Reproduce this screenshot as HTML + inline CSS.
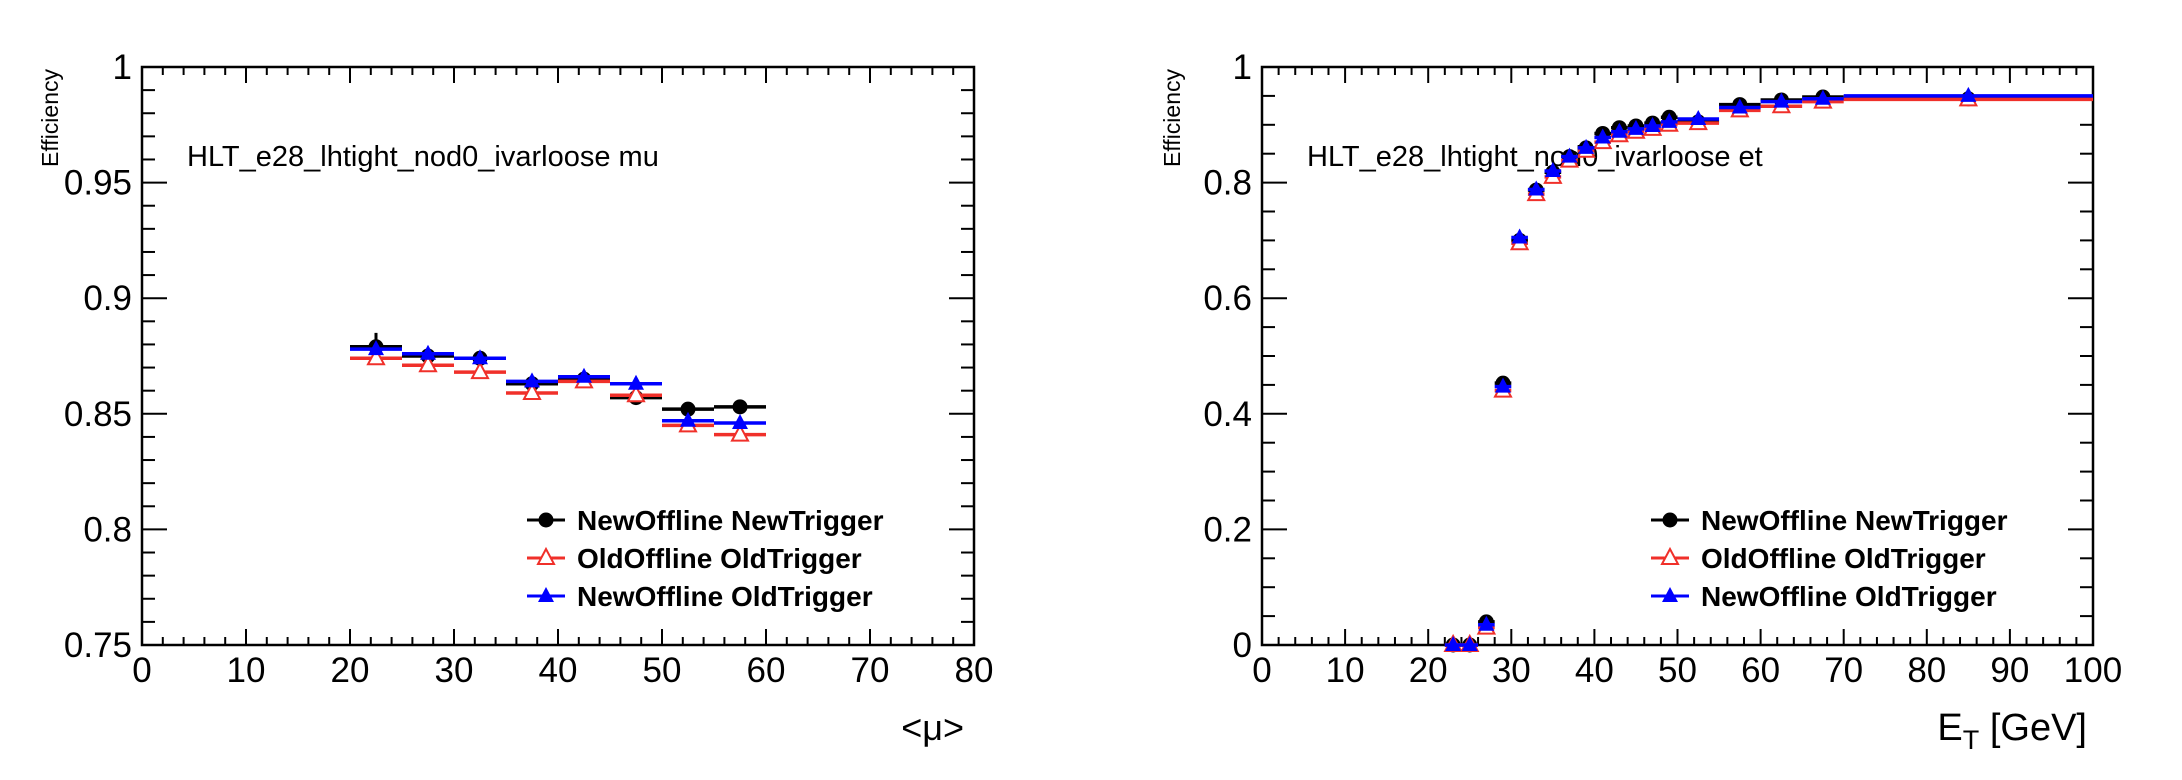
<!DOCTYPE html>
<html><head><meta charset="utf-8">
<style>
html,body{margin:0;padding:0;background:#fff;}
svg{display:block;}
text{font-family:"Liberation Sans",Arial,sans-serif;}
</style></head>
<body>
<svg id="chart" width="2182" height="780" viewBox="0 0 2182 780" xmlns="http://www.w3.org/2000/svg"></svg>
<script>
// ---- Left plot data (<mu>) ----
const muBinLo = [20,25,30,35,40,45,50,55];
const muBinHi = [25,30,35,40,45,50,55,60];
const muNewNew = [0.879,0.875,0.874,0.863,0.865,0.857,0.852,0.853];
const muNewNewErr = [0.006,0.002,0.003,0.002,0.002,0.003,0.003,0.002];
const muOldOld = [0.874,0.871,0.868,0.859,0.864,0.858,0.845,0.841];
const muNewOld = [0.878,0.876,0.874,0.864,0.866,0.863,0.847,0.846];
const muXTicks = [0,10,20,30,40,50,60,70,80];
const muYTicks = [0.75,0.8,0.85,0.9,0.95,1];
const muYTickLabels = ["0.75","0.8","0.85","0.9","0.95","1"];

// ---- Right plot data (E_T) ----
const etBinLo = [22,24,26,28,30,32,34,36,38,40,42,44,46,48,50,55,60,65,70];
const etBinHi = [24,26,28,30,32,34,36,38,40,42,44,46,48,50,55,60,65,70,100];
const etNewNew = [0,0,0.04,0.453,0.70,0.787,0.818,0.845,0.86,0.885,0.895,0.898,0.903,0.913,0.905,0.935,0.943,0.948,0.945];
const etNewNewErr = [0.004,0.004,0.004,0.006,0.006,0.005,0.005,0.004,0.004,0.004,0.004,0.004,0.004,0.004,0.003,0.003,0.003,0.003,0.002];
const etOldOld = [0,0,0.03,0.44,0.695,0.78,0.81,0.838,0.855,0.87,0.882,0.888,0.893,0.9,0.903,0.925,0.932,0.94,0.944];
const etNewOld = [0,0,0.035,0.447,0.705,0.788,0.82,0.845,0.86,0.878,0.888,0.893,0.898,0.905,0.91,0.93,0.94,0.945,0.95];
const etXTicks = [0,10,20,30,40,50,60,70,80,90,100];
const etYTicks = [0,0.2,0.4,0.6,0.8,1];
const etYTickLabels = ["0","0.2","0.4","0.6","0.8","1"];

const legendLabels = ["NewOffline NewTrigger","OldOffline OldTrigger","NewOffline OldTrigger"];

const NS = "http://www.w3.org/2000/svg";
const svg = document.getElementById('chart');
function mk(tag, attrs, parent){
  const e = document.createElementNS(NS, tag);
  for (const k in attrs) e.setAttribute(k, attrs[k]);
  (parent||svg).appendChild(e);
  return e;
}

function drawPlot(cfg){
  const g = mk('g', {});
  
  
  const X = v => cfg.x0 + (v - cfg.xmin) / (cfg.xmax - cfg.xmin) * (cfg.x1 - cfg.x0);
  const Y = v => cfg.y1 - (v - cfg.ymin) / (cfg.ymax - cfg.ymin) * (cfg.y1 - cfg.y0);

  const nX = Math.round((cfg.xmax - cfg.xmin) / cfg.xMinor);
  for (let i = 0; i <= nX; i++){
    const v = cfg.xmin + i*cfg.xMinor;
    const major = Math.abs(v/cfg.xMajor - Math.round(v/cfg.xMajor)) < 1e-6;
    const L = major ? 16 : 8;
    const t1 = mk('line', {x1:X(v), x2:X(v), y1:cfg.y1, y2:cfg.y1-L, stroke:'#000','stroke-width':2}, g);
    
    
    const t2 = mk('line', {x1:X(v), x2:X(v), y1:cfg.y0, y2:cfg.y0+L, stroke:'#000','stroke-width':2}, g);
    
    
  }
  const nY = Math.round((cfg.ymax - cfg.ymin) / cfg.yMinor);
  for (let i = 0; i <= nY; i++){
    const v = cfg.ymin + i*cfg.yMinor;
    const major = Math.abs(v/cfg.yMajor - Math.round(v/cfg.yMajor)) < 1e-6;
    const L = major ? 25 : 13;
    const t1 = mk('line', {x1:cfg.x0, x2:cfg.x0+L, y1:Y(v), y2:Y(v), stroke:'#000','stroke-width':2}, g);
    
    
    const t2 = mk('line', {x1:cfg.x1, x2:cfg.x1-L, y1:Y(v), y2:Y(v), stroke:'#000','stroke-width':2}, g);
    
    
  }
  const fr = mk('rect', {x:cfg.x0, y:cfg.y0, width:cfg.x1-cfg.x0, height:cfg.y1-cfg.y0, fill:'none', stroke:'#000','stroke-width':2.5}, g);
  
  

  cfg.xTicks.forEach(v => {
    const t = mk('text', {x:X(v), y:682, 'font-size':35, 'text-anchor':'middle', fill:'#000'}, g);
    t.textContent = String(v);
    
    
  });
  cfg.yTicks.forEach((v,i) => {
    const t = mk('text', {x:cfg.x0-10, y:Y(v)+12, 'font-size':35, 'text-anchor':'end', fill:'#000'}, g);
    t.textContent = cfg.yTickLabels[i];
    
    
  });
  const yt = mk('text', {x:0, y:0, 'font-size':23, 'text-anchor':'end', fill:'#000',
    transform:`translate(${cfg.yTitleX},${cfg.y0+2}) rotate(-90)`}, g);
  yt.textContent = 'Efficiency';
  
  
  const xt = mk('text', {x:cfg.xTitleRight, y:740, 'font-size':cfg.xTitleSub?38:36, 'text-anchor':'end', fill:'#000'}, g);
  
  
  if (cfg.xTitleSub){
    xt.appendChild(document.createTextNode('E'));
    const ts = mk('tspan', {'font-size':27, dy:9}, xt);
    ts.textContent = 'T';
    const ts2 = mk('tspan', {dy:-9}, xt);
    ts2.textContent = ' [GeV]';
  } else {
    xt.textContent = cfg.xTitle;
  }
  const an = mk('text', {x:cfg.annX, y:166, 'font-size':29, fill:'#000'}, g);
  an.textContent = cfg.annotation;
  
  

  const series = [
    {vals:cfg.s1, err:cfg.s1err, color:'#000', marker:'circle', name:'newoffline-newtrigger'},
    {vals:cfg.s2, err:null, color:'#f0302a', marker:'open-tri', name:'oldoffline-oldtrigger'},
    {vals:cfg.s3, err:null, color:'#0000ff', marker:'tri', name:'newoffline-oldtrigger'}
  ];
  series.forEach(s => {
    const sg = mk('g', {}, g);
    
    
    s.vals.forEach((v,i) => {
      const cx = X((cfg.lo[i]+cfg.hi[i])/2), cy = Y(v);
      const hl = mk('line', {x1:X(cfg.lo[i]), x2:X(cfg.hi[i]), y1:cy, y2:cy, stroke:s.color,'stroke-width':3.5}, sg);
      
      
      if (s.err){
        const el = mk('line', {x1:cx, x2:cx, y1:Y(v+s.err[i]), y2:Y(v-s.err[i]), stroke:s.color,'stroke-width':3}, sg);
        
        
      }
      drawMarker(sg, s.marker, cx, cy, s.color);
    });
  });

  const lg = mk('g', {}, g);
  
  
  const rowsY = [520, 558, 596];
  series.forEach((s,i) => {
    const eg = mk('g', {}, lg);
    
    
    mk('line', {x1:cfg.legX, x2:cfg.legX+38, y1:rowsY[i], y2:rowsY[i], stroke:s.color, 'stroke-width':3}, eg);
    drawMarker(eg, s.marker, cfg.legX+19, rowsY[i], s.color);
    const t = mk('text', {x:cfg.legX+50, y:rowsY[i]+10, 'font-size':28, 'font-weight':'bold', fill:'#000'}, eg);
    t.textContent = legendLabels[i];
  });
}

function drawMarker(parent, type, cx, cy, color){
  let m;
  if (type === 'circle'){
    m = mk('circle', {cx:cx, cy:cy, r:7.5, fill:color}, parent);
  } else {
    const h = 15, w = 16;
    const pts = `${cx},${cy-h*0.6} ${cx-w/2},${cy+h*0.4} ${cx+w/2},${cy+h*0.4}`;
    if (type === 'tri') m = mk('polygon', {points:pts, fill:color}, parent);
    else m = mk('polygon', {points:pts, fill:'#fff', stroke:color, 'stroke-width':2}, parent);
  }
  
  
}

drawPlot({
  name:'mu-efficiency-plot', x0:142, x1:974, y0:67, y1:645,
  xmin:0, xmax:80, ymin:0.75, ymax:1,
  xMajor:10, xMinor:2, yMajor:0.05, yMinor:0.01,
  xTicks:muXTicks, yTicks:muYTicks, yTickLabels:muYTickLabels,
  yTitleX:58, xTitle:'<\u03bc>', xTitleRight:964,
  annX:187, annotation:'HLT_e28_lhtight_nod0_ivarloose mu',
  lo:muBinLo, hi:muBinHi, s1:muNewNew, s1err:muNewNewErr, s2:muOldOld, s3:muNewOld,
  legX:527
});
drawPlot({
  name:'et-efficiency-plot', x0:1262, x1:2093, y0:67, y1:645,
  xmin:0, xmax:100, ymin:0, ymax:1,
  xMajor:10, xMinor:2, yMajor:0.2, yMinor:0.05,
  xTicks:etXTicks, yTicks:etYTicks, yTickLabels:etYTickLabels,
  yTitleX:1180, xTitleSub:true, xTitleRight:2087,
  annX:1307, annotation:'HLT_e28_lhtight_nod0_ivarloose et',
  lo:etBinLo, hi:etBinHi, s1:etNewNew, s1err:etNewNewErr, s2:etOldOld, s3:etNewOld,
  legX:1651
});
</script>
</body></html>
